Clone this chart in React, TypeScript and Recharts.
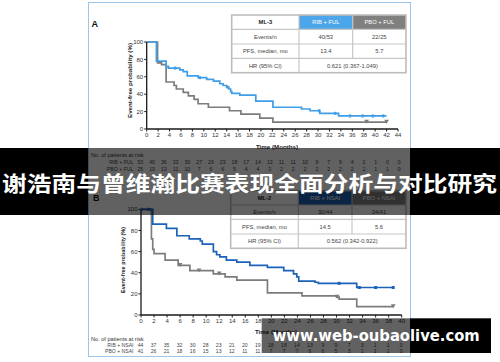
import React from 'react';
import { ComposedChart, Line, Scatter, XAxis, YAxis } from 'recharts';

const FONT = '"Liberation Sans", Arial, Helvetica, sans-serif';

// ---------- shared ticks ----------
const pctTicks = [0, 20, 40, 60, 80, 100];
const monthTicksA = [0, 2, 4, 6, 8, 10, 12, 14, 16, 18, 20, 22, 24, 26, 28, 30, 32, 34, 36, 38, 40, 42, 44];
const monthTicksB = [0, 2, 4, 6, 8, 10, 12, 14, 16, 18, 20, 22, 24, 26, 28, 30, 32, 34, 36, 38, 40];

// ---------- Panel A (ML-3) ----------
const ribFulTime = [0, 1.7, 3.4, 3.8, 5.8, 6.4, 7.1, 9.0, 10.5, 11.7, 12.8, 13.4, 14.0, 14.4, 14.7, 14.9, 16.3, 19.1, 22.1, 27.1, 28.6, 30.3, 33.6, 42.0];
const ribFulSurv = [100, 78, 72, 70, 68, 66, 61, 59, 57, 55, 52, 50, 48, 46, 43, 41, 39, 32, 25, 23, 21, 18, 15, 15];
const ribFulCensorTime = [5.0, 9.3, 14.2, 30.2, 33.0, 35.6, 37.8, 39.6, 41.4];
const ribFulCensorSurv = [70, 59, 48, 21, 18, 15, 15, 15, 15];
const pboFulTime = [0, 1.9, 2.6, 3.4, 4.8, 5.2, 6.4, 7.3, 8.3, 9.0, 10.8, 14.5, 16.5, 19.8, 22.1, 42.0];
const pboFulSurv = [100, 76, 74, 54, 50, 46, 42, 38, 34, 29, 25, 21, 17, 12.5, 8, 8];
const pboFulCensorTime = [38.5, 42.0];
const pboFulCensorSurv = [8, 8];
const ribFulRisk = [53, 40, 36, 33, 30, 27, 26, 23, 18, 17, 14, 13, 11, 11, 10, 9, 7, 6, 4, 2, 1, 0, 0];
const pboFulRisk = [25, 19, 13, 11, 10, 7, 6, 6, 5, 4, 4, 3, 2, 2, 2, 2, 2, 2, 2, 2, 1, 1, 0];
const tableAHeader = ['ML-3', 'RIB + FUL', 'PBO + FUL'];
const tableARows = [
  ['Events/n', '40/53', '22/25'],
  ['PFS, median, mo', '13.4', '5.7'],
  ['HR (95% CI)', '0.621 (0.367-1.049)'],
];

// ---------- Panel B ----------
const ribNsaiTime = [0, 1.8, 3.9, 5.5, 7.4, 9.1, 9.4, 11.1, 11.6, 12.1, 13.1, 14.7, 16.7, 19.4, 21.9, 23.4, 23.9, 24.2, 26.7, 27.2, 33.1, 38.7];
const ribNsaiSurv = [100, 86, 82, 75, 72, 70, 67, 60, 57, 55, 52, 50, 47, 45, 42, 39, 36, 32, 31, 30, 26, 26];
const ribNsaiCensorTime = [0, 1.2, 30.4, 33.5, 36.0, 38.7];
const ribNsaiCensorSurv = [100, 100, 30, 26, 26, 26];
const pboNsaiTime = [0, 1.6, 1.8, 2.0, 3.7, 5.7, 7.5, 11.1, 12.9, 14.7, 19.4, 24.7, 30.0, 30.4, 33.1, 38.7];
const pboNsaiSurv = [100, 72, 62, 58, 52, 47, 42, 39, 36, 33, 21, 18, 17, 15, 8, 8];
const pboNsaiCensorTime = [6.0, 8.9, 12.0, 30.1, 38.7];
const pboNsaiCensorSurv = [47, 42, 39, 17, 8];
const ribNsaiRisk = [44, 37, 35, 32, 30, 28, 23, 21, 20, 19, 18, 18, 14, 13, 9, 9, 7, 3, 1, 1, 0];
const pboNsaiRisk = [41, 26, 21, 18, 16, 15, 13, 12, 11, 11, 7, 7, 7, 6, 6, 5, 3, 1, 1, 1, 0];
const tableBHeader = ['ML-2', 'RIB + NSAI', 'PBO + NSAI'];
const tableBRows = [
  ['Events/n', '30/44', '34/41'],
  ['PFS, median, mo', '14.5', '5.6'],
  ['HR (95% CI)', '0.562 (0.342-0.922)'],
];

const bannerText = '谢浩南与曾维瀚比赛表现全面分析与对比研究';
const watermarkText = 'www.web-oubaolive.com';

// ---------- colours ----------
const BLUE_A = '#3f9ee8';
const BLUE_A_HEAD = '#4ea6ea';
const BLUE_B = '#1b62b8';
const BLUE_B_HEAD = '#1f60b0';
const GRAY = '#7c7c7c';
const GRAY_HEAD = '#808080';

const zip = (t: number[], s: number[]) => t.map((v, i) => ({ t: v, s: s[i] }));

const squareShape = (color: string, w: number, h: number) => (p: any) => (
  <rect x={p.cx - w / 2} y={p.cy - h / 2} width={w} height={h} fill={color} />
);
const triShape = (color: string) => (p: any) => (
  <path d={`M${p.cx - 2.4},${p.cy - 2.2} L${p.cx + 2.4},${p.cy - 2.2} L${p.cx},${p.cy + 1.6} Z`} fill={color} />
);

type Plot = { left: number; right: number; top: number; bottom: number };

function KMChart(props: {
  plot: Plot;
  maxT: number;
  ticks: number[];
  lines: { data: { t: number; s: number }[]; color: string }[];
  censors: { data: { t: number; s: number }[]; shape: any }[];
}) {
  const { plot, maxT, ticks, lines, censors } = props;
  const yW = 20;
  const xH = 14;
  return (
    <div style={{ position: 'absolute', left: 0, top: 0 }}>
      <ComposedChart
        width={500}
        height={362}
        margin={{ top: plot.top, left: plot.left - yW, right: 500 - plot.right, bottom: 362 - plot.bottom - xH }}
      >
        <XAxis
          type="number"
          dataKey="t"
          domain={[0, maxT]}
          ticks={ticks}
          interval={0}
          allowDataOverflow
          height={xH}
          tickSize={2.5}
          tickMargin={1.5}
          axisLine={{ stroke: '#1a1a1a', strokeWidth: 1.3 }}
          tickLine={{ stroke: '#1a1a1a', strokeWidth: 1 }}
          tick={{ fontSize: 6, fill: '#333', fontFamily: FONT }}
        />
        <YAxis
          type="number"
          dataKey="s"
          domain={[0, 100]}
          ticks={pctTicks}
          interval={0}
          width={yW}
          tickSize={2.5}
          tickMargin={1}
          axisLine={{ stroke: '#1a1a1a', strokeWidth: 1.3 }}
          tickLine={{ stroke: '#1a1a1a', strokeWidth: 1 }}
          tick={{ fontSize: 6, fill: '#333', fontFamily: FONT }}
        />
        {lines.map((l, i) => (
          <Line
            key={'l' + i}
            data={l.data}
            type="stepAfter"
            dataKey="s"
            stroke={l.color}
            strokeWidth={1.7}
            dot={false}
            activeDot={false}
            isAnimationActive={false}
          />
        ))}
        {censors.map((c, i) => (
          <Scatter key={'c' + i} data={c.data} dataKey="s" shape={c.shape} isAnimationActive={false} />
        ))}
      </ComposedChart>
    </div>
  );
}

function StatTable(props: { xs: number[]; ys: number[]; header: string[]; headFills: string[]; rows: string[][] }) {
  const { xs, ys, header, headFills, rows } = props;
  const stroke = '#c6c6c6';
  const cx = (a: number, b: number) => (a + b) / 2;
  return (
    <g fontFamily={FONT} fontSize={5.8}>
      <rect x={xs[0]} y={ys[0]} width={xs[3] - xs[0]} height={ys[4] - ys[0]} fill="#fff" />
      <rect x={xs[1]} y={ys[0]} width={xs[2] - xs[1]} height={ys[1] - ys[0]} fill={headFills[0]} />
      <rect x={xs[2]} y={ys[0]} width={xs[3] - xs[2]} height={ys[1] - ys[0]} fill={headFills[1]} />
      <text x={cx(xs[0], xs[1])} y={cx(ys[0], ys[1])} dy="0.35em" textAnchor="middle" fontWeight="bold" fill="#222">
        {header[0]}
      </text>
      <text x={cx(xs[1], xs[2])} y={cx(ys[0], ys[1])} dy="0.35em" textAnchor="middle" fill="#fff">
        {header[1]}
      </text>
      <text x={cx(xs[2], xs[3])} y={cx(ys[0], ys[1])} dy="0.35em" textAnchor="middle" fill="#fff">
        {header[2]}
      </text>
      {rows.map((r, i) => {
        const y = cx(ys[i + 1], ys[i + 2]);
        if (r.length === 2) {
          return (
            <g key={i}>
              <text x={cx(xs[0], xs[1])} y={y} dy="0.35em" textAnchor="middle" fill="#444">{r[0]}</text>
              <text x={cx(xs[1], xs[3])} y={y} dy="0.35em" textAnchor="middle" fill="#444">{r[1]}</text>
            </g>
          );
        }
        return (
          <g key={i}>
            <text x={cx(xs[0], xs[1])} y={y} dy="0.35em" textAnchor="middle" fill="#444">{r[0]}</text>
            <text x={cx(xs[1], xs[2])} y={y} dy="0.35em" textAnchor="middle" fill="#444">{r[1]}</text>
            <text x={cx(xs[2], xs[3])} y={y} dy="0.35em" textAnchor="middle" fill="#444">{r[2]}</text>
          </g>
        );
      })}
      {[1, 2, 3].map((k) => (
        <line key={'h' + k} x1={xs[0]} x2={xs[3]} y1={ys[k]} y2={ys[k]} stroke={stroke} strokeWidth={1.2} />
      ))}
      <line x1={xs[1]} x2={xs[1]} y1={ys[0]} y2={ys[4]} stroke={stroke} strokeWidth={1.2} />
      <line x1={xs[2]} x2={xs[2]} y1={ys[0]} y2={ys[3]} stroke={stroke} strokeWidth={1.2} />
      <rect x={xs[0]} y={ys[0]} width={xs[3] - xs[0]} height={ys[4] - ys[0]} fill="none" stroke="#bdbdbd" strokeWidth={1.6} />
    </g>
  );
}

function RiskTable(props: {
  titleY: number; rowYs: number[]; labels: string[]; values: number[][]; x0: number; step: number; size: number;
}) {
  const { titleY, rowYs, labels, values, x0, step, size } = props;
  return (
    <g fontFamily={FONT} fontSize={size} fill="#444">
      <text x={91} y={titleY} dy="0.35em" fill="#333" fontSize={5.6}>No. of patients at risk</text>
      {labels.map((l, r) => (
        <g key={r}>
          <text x={133.5} y={rowYs[r]} dy="0.35em" textAnchor="end">{l}</text>
          {values[r].map((v, i) => (
            <text key={i} x={x0 + i * step} y={rowYs[r]} dy="0.35em" textAnchor="middle">{v}</text>
          ))}
        </g>
      ))}
    </g>
  );
}

export default function App() {
  const plotA: Plot = { left: 146.7, right: 398, top: 42, bottom: 129 };
  const plotB: Plot = { left: 141, right: 401.7, top: 209.3, bottom: 315 };
  const stepB = (plotB.right - plotB.left) / (monthTicksB.length - 1);
  return (
    <div style={{ position: 'absolute', left: 0, top: 0, width: 500, height: 362, background: '#fff', overflow: 'hidden' }}>
      <div style={{ position: 'absolute', left: 88, top: 2, width: 321, height: 353, border: '1px solid #9dc5ea' }} />

      <KMChart
        plot={plotA}
        maxT={44}
        ticks={monthTicksA}
        lines={[
          { data: zip(pboFulTime, pboFulSurv), color: GRAY },
          { data: zip(ribFulTime, ribFulSurv), color: BLUE_A },
        ]}
        censors={[
          { data: zip(pboFulCensorTime, pboFulCensorSurv), shape: triShape(GRAY) },
          { data: zip(ribFulCensorTime, ribFulCensorSurv), shape: squareShape(BLUE_A, 2.4, 3) },
        ]}
      />
      <KMChart
        plot={plotB}
        maxT={40}
        ticks={monthTicksB}
        lines={[
          { data: zip(pboNsaiTime, pboNsaiSurv), color: GRAY },
          { data: zip(ribNsaiTime, ribNsaiSurv), color: BLUE_B },
        ]}
        censors={[
          { data: zip(pboNsaiCensorTime, pboNsaiCensorSurv), shape: triShape(GRAY) },
          { data: zip(ribNsaiCensorTime, ribNsaiCensorSurv), shape: squareShape(BLUE_B, 3, 3) },
        ]}
      />

      <svg width={500} height={362} style={{ position: 'absolute', left: 0, top: 0 }}>
        <text x={91.5} y={23.5} dy="0.35em" fontFamily={FONT} fontWeight="bold" fontSize={9} fill="#111">A</text>
        <text
          transform="translate(130.5,80.5) rotate(-90)"
          textAnchor="middle"
          dy="0.35em"
          fontFamily={FONT}
          fontWeight="bold"
          fontSize={5.6}
          fill="#222"
          textLength={75}
          lengthAdjust="spacingAndGlyphs"
        >
          Event-free probability (%)
        </text>
        <text x={277} y={146.5} dy="0.35em" textAnchor="middle" fontFamily={FONT} fontWeight="bold" fontSize={6.2} fill="#222">
          Time (Months)
        </text>
        <StatTable
          xs={[231.7, 299, 352.7, 406]}
          ys={[15, 29.3, 44, 58.3, 72.7]}
          header={tableAHeader}
          headFills={[BLUE_A_HEAD, GRAY_HEAD]}
          rows={tableARows}
        />
        <RiskTable
          titleY={155.5}
          rowYs={[162.5, 168.8]}
          labels={['RIB + FUL', 'PBO + FUL']}
          values={[ribFulRisk, pboFulRisk]}
          x0={140.3}
          step={11.77}
          size={5.2}
        />

        <text x={93} y={198} dy="0.35em" fontFamily={FONT} fontWeight="bold" fontSize={9} fill="#111">B</text>
        <text
          transform="translate(123.5,260) rotate(-90)"
          textAnchor="middle"
          dy="0.35em"
          fontFamily={FONT}
          fontWeight="bold"
          fontSize={5.4}
          fill="#222"
          textLength={66}
          lengthAdjust="spacingAndGlyphs"
        >
          Event-free probability (%)
        </text>
        <text x={276} y={331.7} dy="0.35em" textAnchor="middle" fontFamily={FONT} fontWeight="bold" fontSize={6.2} fill="#222">
          Time (Months)
        </text>
        <StatTable
          xs={[230.7, 298.3, 352, 406]}
          ys={[190.7, 205, 219.3, 234, 248.3]}
          header={tableBHeader}
          headFills={[BLUE_B_HEAD, GRAY_HEAD]}
          rows={tableBRows}
        />
        <RiskTable
          titleY={339}
          rowYs={[345.2, 351.2]}
          labels={['RIB + NSAI', 'PBO + NSAI']}
          values={[ribNsaiRisk, pboNsaiRisk]}
          x0={plotB.left - 0.5}
          step={stepB}
          size={5.1}
        />

        <rect x={0} y={148} width={88} height={67} fill="#000" />
        <rect x={410} y={148} width={90} height={67} fill="#000" />
        <rect x={88} y={148} width={322} height={67} fill="rgba(0,0,0,0.62)" />
        <text
          x={2}
          y={182}
          dominantBaseline="central"
          fontFamily='"Noto Sans CJK SC", "Noto Sans", sans-serif'
          fontWeight="bold"
          fontSize={21}
          fill="#fff"
          textLength={495}
          lengthAdjust="spacingAndGlyphs"
        >
          {bannerText}
        </text>

        <rect x={261.7} y={318.3} width={148.3} height={34.7} fill="rgba(0,0,0,0.62)" />
        <rect x={410} y={318.3} width={81} height={34.7} fill="#000" />
        <text
          x={272.7}
          y={341}
          fontFamily='"DejaVu Sans", "Open Sans", sans-serif'
          fontWeight="bold"
          fontSize={15.5}
          fill="#fff"
          textLength={207}
          lengthAdjust="spacingAndGlyphs"
        >
          {watermarkText}
        </text>
      </svg>
    </div>
  );
}
